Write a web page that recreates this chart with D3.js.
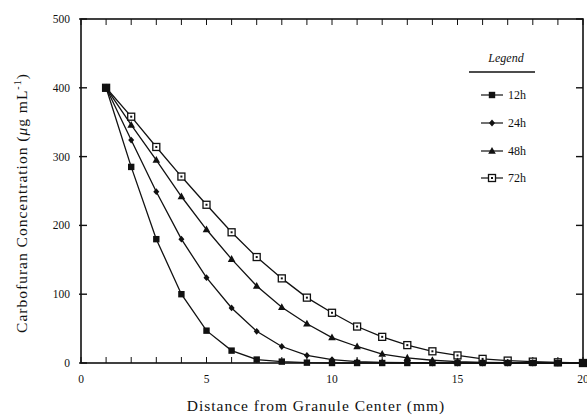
<!DOCTYPE html>
<html>
<head>
<meta charset="utf-8">
<script src="https://cdn.jsdelivr.net/npm/d3@7"></script>
<style>
  body { margin: 0; background: #fff; }
  text { font-family: "Liberation Serif", "DejaVu Serif", serif; fill: #111; }
</style>
</head>
<body>
<svg id="chart" width="587" height="418"></svg>
<script>
// distance from granule center (mm)
var distance = [1, 2, 3, 4, 5, 6, 7, 8, 9, 10, 11, 12, 13, 14, 15, 16, 17, 18, 19, 20];
// concentration (ug/mL) per time
var c12 = [400, 285, 180, 100, 47, 18, 5, 2, 0.5, 0, 0, 0, 0, 0, 0, 0, 0, 0, 0, 0];
var c24 = [400, 324, 249, 180, 124, 80, 46, 24, 11, 5, 2, 1, 0.5, 0, 0, 0, 0, 0, 0, 0];
var c48 = [400, 346, 295, 242, 194, 151, 112, 81, 57, 37, 24, 13, 7.5, 4, 2, 1, 0.5, 0, 0, 0];
var c72 = [400, 358, 314, 271, 230, 190, 154, 123, 95, 73, 53, 38, 26, 17, 11, 6, 3.5, 2, 1, 0];
var seriesNames = ['12h', '24h', '48h', '72h'];
var xTicks = [0, 5, 10, 15, 20];
var yTicks = [0, 100, 200, 300, 400, 500];

var svg = d3.select('#chart');
var m = {l: 81, r: 4, t: 19, b: 55};
var W = 587, H = 418;

var x = d3.scaleLinear().domain([0, 20]).range([m.l, W - m.r]);
var y = d3.scaleLinear().domain([0, 500]).range([H - m.b, m.t]);

// frame
svg.append('rect')
  .attr('x', x(0)).attr('y', y(500))
  .attr('width', x(20) - x(0)).attr('height', y(0) - y(500))
  .attr('fill', 'none').attr('stroke', '#111').attr('stroke-width', 1.6);

// minor ticks every 1 mm on bottom and top, pointing inward
var unitTicks = d3.range(0, 21);
svg.append('g').selectAll('line').data(unitTicks).enter().append('line')
  .attr('x1', function(d) { return x(d); }).attr('x2', function(d) { return x(d); })
  .attr('y1', y(0)).attr('y2', y(0) - 6)
  .attr('stroke', '#111').attr('stroke-width', 1);
svg.append('g').selectAll('line').data(unitTicks).enter().append('line')
  .attr('x1', function(d) { return x(d); }).attr('x2', function(d) { return x(d); })
  .attr('y1', y(500)).attr('y2', y(500) + 6)
  .attr('stroke', '#111').attr('stroke-width', 1);

// left / right ticks
svg.append('g').selectAll('line').data(yTicks).enter().append('line')
  .attr('x1', x(0) - 2).attr('x2', x(0) + 6)
  .attr('y1', function(d) { return y(d); }).attr('y2', function(d) { return y(d); })
  .attr('stroke', '#111').attr('stroke-width', 1.4);
svg.append('g').selectAll('line').data(yTicks).enter().append('line')
  .attr('x1', x(20) - 7).attr('x2', x(20))
  .attr('y1', function(d) { return y(d); }).attr('y2', function(d) { return y(d); })
  .attr('stroke', '#111').attr('stroke-width', 1.4);

// tick labels
svg.append('g').selectAll('text').data(yTicks).enter().append('text')
  .attr('x', x(0) - 11).attr('y', function(d) { return y(d) + 4; })
  .attr('text-anchor', 'end').attr('font-size', 11.5)
  .text(function(d) { return d; });
svg.append('g').selectAll('text').data(xTicks).enter().append('text')
  .attr('x', function(d) { return x(d); }).attr('y', y(0) + 20)
  .attr('text-anchor', 'middle').attr('font-size', 11.5)
  .text(function(d) { return d; });

// axis titles
svg.append('text')
  .attr('x', 316).attr('y', 411)
  .attr('text-anchor', 'middle').attr('font-size', 15.5)
  .attr('letter-spacing', 1)
  .text('Distance from Granule Center (mm)');
var yt = svg.append('text')
  .attr('transform', 'translate(27,' + ((y(0) + y(500)) / 2 + 12) + ') rotate(-90)')
  .attr('text-anchor', 'middle').attr('font-size', 15.5)
  .attr('letter-spacing', 1);
yt.append('tspan').text('Carbofuran Concentration (');
yt.append('tspan').attr('font-style', 'italic').text('\u03bc');
yt.append('tspan').text('g mL');
yt.append('tspan').attr('font-size', 10).attr('dy', -6).text('-1');
yt.append('tspan').attr('dy', 6).text(')');

// markers
function drawMarker(g, kind, cx, cy) {
  if (kind === 'square') {
    g.append('rect').attr('x', cx - 3.2).attr('y', cy - 3.2).attr('width', 6.4).attr('height', 6.4).attr('fill', '#111');
  } else if (kind === 'diamond') {
    g.append('path').attr('d', 'M' + cx + ',' + (cy - 3.4) + 'L' + (cx + 3) + ',' + cy + 'L' + cx + ',' + (cy + 3.4) + 'L' + (cx - 3) + ',' + cy + 'Z').attr('fill', '#111');
  } else if (kind === 'triangle') {
    g.append('path').attr('d', 'M' + cx + ',' + (cy - 4) + 'L' + (cx + 3.8) + ',' + (cy + 2.8) + 'L' + (cx - 3.8) + ',' + (cy + 2.8) + 'Z').attr('fill', '#111');
  } else {
    g.append('rect').attr('x', cx - 3.5).attr('y', cy - 3.5).attr('width', 7).attr('height', 7)
      .attr('fill', '#fff').attr('stroke', '#111').attr('stroke-width', 1.3);
    g.append('rect').attr('x', cx - 1).attr('y', cy - 1).attr('width', 2).attr('height', 2).attr('fill', '#111');
  }
}

var allSeries = [c12, c24, c48, c72];
var kinds = ['square', 'diamond', 'triangle', 'open'];
var line = d3.line()
  .x(function(d, i) { return x(distance[i]); })
  .y(function(d) { return y(d); });

// draw 72h first so 12h sits on top
for (var s = 3; s >= 0; s--) {
  var g = svg.append('g');
  g.append('path').datum(allSeries[s])
    .attr('d', line).attr('fill', 'none')
    .attr('stroke', '#111').attr('stroke-width', 1.3);
  allSeries[s].forEach(function(v, i) {
    drawMarker(g, kinds[s], x(distance[i]), y(v));
  });
}

// legend
var lg = svg.append('g');
lg.append('text').attr('x', 506).attr('y', 62).attr('text-anchor', 'middle')
  .attr('font-size', 12).attr('font-style', 'italic').text('Legend');
lg.append('line').attr('x1', 469).attr('x2', 535).attr('y1', 72).attr('y2', 72)
  .attr('stroke', '#111').attr('stroke-width', 1.5);
var legendY = [95, 123, 151, 178];
seriesNames.forEach(function(name, i) {
  lg.append('line').attr('x1', 481).attr('x2', 503)
    .attr('y1', legendY[i]).attr('y2', legendY[i])
    .attr('stroke', '#111').attr('stroke-width', 1.2);
  drawMarker(lg, kinds[i], 492, legendY[i]);
  lg.append('text').attr('x', 508).attr('y', legendY[i] + 4)
    .attr('font-size', 12).text(name);
});
</script>
</body>
</html>
